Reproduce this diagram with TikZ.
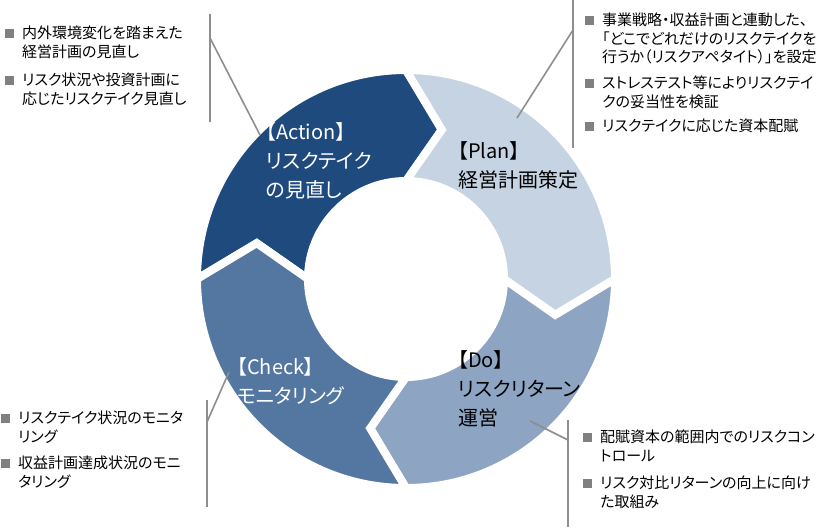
\documentclass[tikz,border=0pt]{standalone}
\usepackage{fontspec}
\setmainfont{Noto Sans CJK JP}[RawFeature=+palt]
\usetikzlibrary{positioning}

\definecolor{actioncol}{RGB}{31,74,125}
\definecolor{plancol}{RGB}{198,211,227}
\definecolor{docol}{RGB}{141,165,195}
\definecolor{checkcol}{RGB}{83,119,160}
\definecolor{leadcol}{RGB}{142,142,142}
\definecolor{markcol}{RGB}{128,128,128}

\begin{document}
\begin{tikzpicture}[x=1pt,y=1pt,
    ringseg/.style={draw=white, line width=8pt},
    stage/.style={align=left, anchor=west, inner sep=0pt,
      font=\fontsize{20}{29}\selectfont},
    item/.style={align=left, anchor=north west, inner sep=0pt,
      font=\fontsize{15}{18.5}\selectfont},
    sqmark/.style={fill=markcol, minimum size=9pt, inner sep=0pt},
    leader/.style={draw=leadcol, line width=1.6pt}
    ]
    \useasboundingbox (0,0) rectangle (824,528);
    % ring of four stages
    \begin{scope}[shift={(406,249)}]
      \foreach \s/\col in {180/actioncol, 90/plancol, 0/docol, 270/checkcol}
        \filldraw[ringseg, fill=\col] (\s:209)
          arc[start angle=\s, end angle=\s-90, radius=209]
          -- ({\s-103.5}:153.5) -- ({\s-90}:98)
          arc[start angle=\s-90, end angle=\s, radius=98]
          -- ({\s-13.5}:153.5) -- cycle;
    \end{scope}
    \node[stage, white] (A) at (266,367) {【Action】\\リスクテイク\\の見直し};
    \node[stage] (P) at (458,363) {【Plan】\\経営計画策定};
    \node[stage] (D) at (458,139) {【Do】\\リスクリターン\\運営};
    \node[stage, white] (C) at (237,147) {【Check】\\モニタリング};
    % notes
    \node[item] (tl1) at (22,502) {内外環境変化を踏まえた\\経営計画の見直し};
    \node[item] (tl2) at (22,455) {リスク状況や投資計画に\\応じたリスクテイク見直し};
    \node[item] (tr1) at (602,515) {事業戦略・収益計画と連動した、\\「どこでどれだけのリスクテイクを\\行うか（リスクアペタイト）」を設定};
    \node[item] (tr2) at (602,452) {ストレステスト等によりリスクテイ\\クの妥当性を検証};
    \node[item] (tr3) at (602,409) {リスクテイクに応じた資本配賦};
    \node[item] (bl1) at (18,117) {リスクテイク状況のモニタ\\リング};
    \node[item] (bl2) at (18,72) {収益計画達成状況のモニ\\タリング};
    \node[item] (br1) at (600,98) {配賦資本の範囲内でのリスクコン\\トロール};
    \node[item] (br2) at (600,52) {リスク対比リターンの向上に向け\\た取組み};
    \foreach \n in {tl1,tl2,tr1,tr2,tr3,bl1,bl2,br1,br2}
      \node[sqmark, below left=2.5pt and 8pt of \n.north west] (\n-sq) {};
    % leader lines
    \coordinate (tlTop) at (210,514);
    \coordinate (tlBot) at (210,406);
    \coordinate (tlJoin) at (210,490);
    \coordinate (actPt) at (260,393);
    \coordinate (trTop) at (573,528);
    \coordinate (trBot) at (573,380);
    \coordinate (trJoin) at (573,498);
    \coordinate (planPt) at (517,410);
    \coordinate (blTop) at (207,128);
    \coordinate (blBot) at (207,21);
    \coordinate (blJoin) at (207,106);
    \coordinate (chkPt) at (229,156);
    \coordinate (brTop) at (568,108);
    \coordinate (brBot) at (568,1);
    \coordinate (brJoin) at (568,88);
    \coordinate (doPt) at (530,107);
    \draw[leader] (tlTop) -- (tlBot);
    \draw[leader] (tlJoin) -- (actPt);
    \draw[leader] (trTop) -- (trBot);
    \draw[leader] (trJoin) -- (planPt);
    \draw[leader] (blTop) -- (blBot);
    \draw[leader] (blJoin) -- (chkPt);
    \draw[leader] (brTop) -- (brBot);
    \draw[leader] (brJoin) -- (doPt);
  \end{tikzpicture}
\end{document}
